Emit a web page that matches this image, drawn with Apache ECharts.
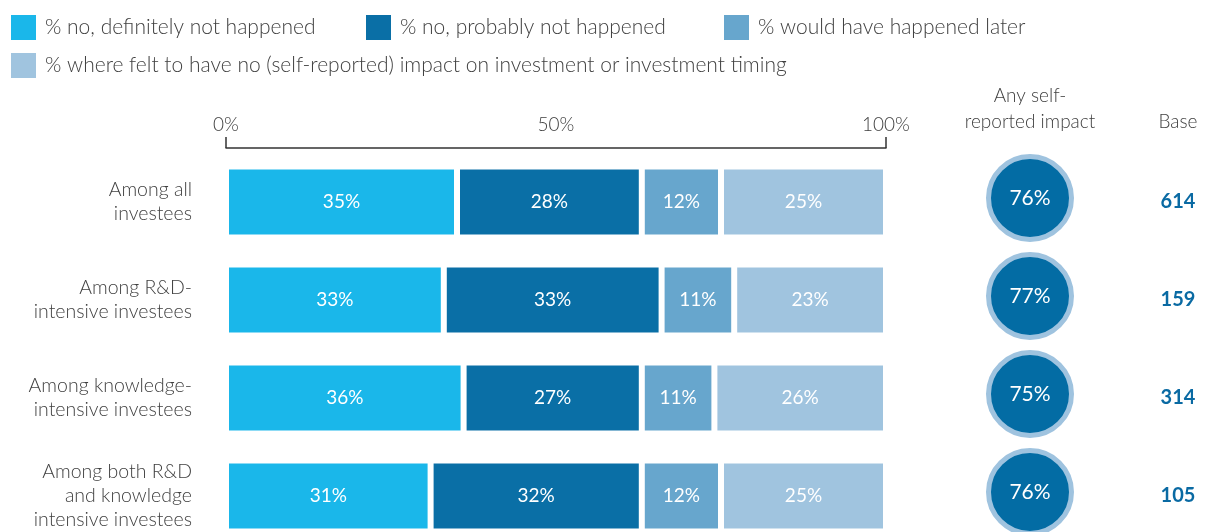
<!DOCTYPE html>
<html>
<head>
<meta charset="utf-8">
<script src="https://cdn.jsdelivr.net/npm/echarts@6/dist/echarts.min.js"></script>
<style>
  html, body { margin: 0; padding: 0; background: #fff; }
  #chart-container { width: 1211px; height: 532px; }
</style>
</head>
<body>
<div id="chart-container"></div>
<script>
  // data
  var categories = [
    'Among all\ninvestees',
    'Among R&D-\nintensive investees',
    'Among knowledge-\nintensive investees',
    'Among both R&D\nand knowledge\nintensive investees'
  ];
  var definitelyNot = [35, 33, 36, 31];
  var probablyNot = [28, 33, 27, 32];
  var happenedLater = [12, 11, 11, 12];
  var noImpact = [25, 23, 26, 25];
  var anyImpact = [76, 77, 75, 76];
  var baseCounts = [614, 159, 314, 105];
  var sideColumns = ['Any self-\nreported impact', 'Base'];
  var axisTicks = [0, 50, 100];

  var seriesNames = [
    '% no, definitely not happened',
    '% no, probably not happened',
    '% would have happened later',
    '% where felt to have no (self-reported) impact on investment or investment timing'
  ];
  var colors = ['#1ab7ea', '#0a6fa6', '#67a6cd', '#a0c4df'];
  var fontFamily = 'Lato, "Open Sans", sans-serif';
  var textColor = '#404040';

  var dom = document.getElementById('chart-container');
  var myChart = echarts.init(dom, null, { renderer: 'canvas' });

  function barSeries(name, values, color) {
    return {
      name: name,
      type: 'bar',
      stack: 'total',
      xAxisIndex: 0,
      yAxisIndex: 0,
      barWidth: 71,
      data: values,
      itemStyle: { color: color, borderColor: '#fff', borderWidth: 3 },
      label: {
        show: true,
        color: '#fff',
        fontSize: 19,
        fontFamily: fontFamily,
        formatter: '{c}%'
      },
      emphasis: { disabled: true }
    };
  }

  var legendPos = [
    { left: 9, top: 13 },
    { left: 364, top: 13 },
    { left: 722, top: 13 },
    { left: 9, top: 51 }
  ];

  var options = {
    animation: false,
    legend: legendPos.map(function (p, i) {
      return {
        left: p.left,
        top: p.top,
        padding: 0,
        data: [seriesNames[i]],
        icon: 'rect',
        itemWidth: 27,
        itemHeight: 27,
        selectedMode: false,
        textStyle: {
          color: textColor,
          fontSize: 21,
          fontWeight: 300,
          fontFamily: fontFamily,
          padding: [6, 0, 0, 3]
        }
      };
    }),
    grid: [
      { left: 226, top: 153, width: 660, height: 392, outerBoundsMode: 'none' },
      { left: 1030, top: 153, width: 148, height: 392, outerBoundsMode: 'none' }
    ],
    xAxis: [
      {
        type: 'value',
        gridIndex: 0,
        position: 'top',
        min: 0,
        max: 100,
        interval: 50,
        offset: 5,
        splitLine: { show: false },
        axisLine: { show: true, lineStyle: { color: '#333', width: 1.5 } },
        axisTick: {
          show: true,
          length: 11,
          customValues: [0, 100],
          lineStyle: { color: '#333', width: 1.5 }
        },
        axisLabel: {
          customValues: axisTicks,
          formatter: '{value}%',
          color: textColor,
          fontSize: 19,
          fontWeight: 300,
          fontFamily: fontFamily,
          margin: 14
        }
      },
      {
        type: 'category',
        gridIndex: 1,
        position: 'top',
        boundaryGap: false,
        data: sideColumns,
        axisLine: { show: false },
        axisTick: { show: false },
        axisLabel: {
          interval: 0,
          color: textColor,
          fontSize: 19,
          fontWeight: 300,
          fontFamily: fontFamily,
          lineHeight: 26,
          margin: 18
        }
      }
    ],
    yAxis: [
      {
        type: 'category',
        gridIndex: 0,
        inverse: true,
        data: categories,
        axisLine: { show: false },
        axisTick: { show: false },
        axisLabel: {
          color: textColor,
          fontSize: 19.5,
          fontWeight: 300,
          fontFamily: fontFamily,
          lineHeight: 24,
          margin: 34,
          align: 'right'
        }
      },
      {
        type: 'category',
        gridIndex: 1,
        inverse: true,
        data: categories,
        show: false
      }
    ],
    series: [
      barSeries(seriesNames[0], definitelyNot, colors[0]),
      barSeries(seriesNames[1], probablyNot, colors[1]),
      barSeries(seriesNames[2], happenedLater, colors[2]),
      barSeries(seriesNames[3], noImpact, colors[3]),
      {
        name: 'impact',
        type: 'scatter',
        xAxisIndex: 1,
        yAxisIndex: 1,
        symbolSize: 83,
        symbolOffset: [0, -4],
        data: anyImpact.map(function (v, i) { return [0, i, v]; }),
        itemStyle: { color: '#036ca4', borderColor: '#9fc3df', borderWidth: 5, opacity: 1 },
        label: {
          show: true,
          position: 'inside',
          color: '#fff',
          fontSize: 21,
          fontFamily: fontFamily,
          formatter: function (p) { return p.value[2] + '%'; }
        },
        emphasis: { disabled: true }
      },
      {
        name: 'base',
        type: 'scatter',
        xAxisIndex: 1,
        yAxisIndex: 1,
        symbolSize: 1,
        data: baseCounts.map(function (v, i) { return [1, i, v]; }),
        itemStyle: { color: 'rgba(255,255,255,0)', opacity: 1 },
        label: {
          show: true,
          position: 'inside',
          color: '#0a6aa3',
          fontSize: 20,
          fontWeight: 'bold',
          fontFamily: fontFamily,
          formatter: function (p) { return p.value[2]; }
        },
        emphasis: { disabled: true }
      }
    ]
  };

  myChart.setOption(options);
</script>
</body>
</html>
